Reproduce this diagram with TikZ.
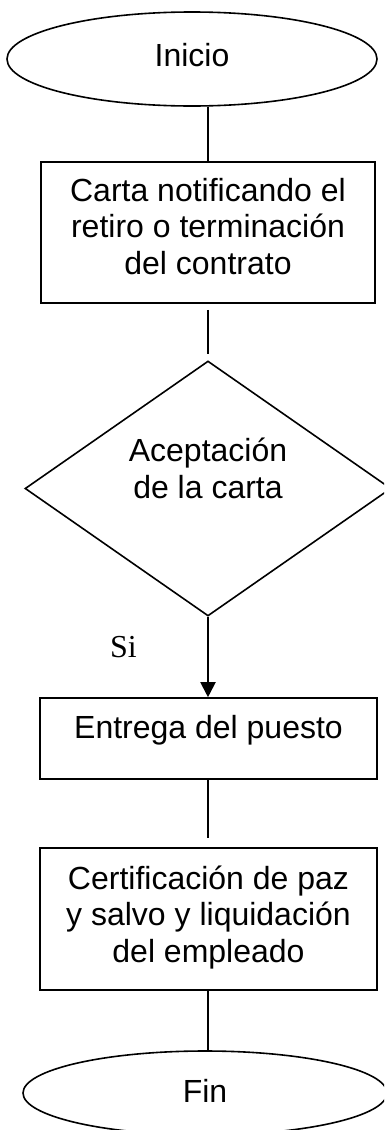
\documentclass[tikz,border=0pt]{standalone}
\usepackage{fontspec}
\setmainfont{Liberation Sans}
\newfontfamily\serifsi{Liberation Serif}
\usetikzlibrary{shapes.geometric,arrows.meta}
\begin{document}
\begin{tikzpicture}[x=1pt,y=-1pt,
  shapeline/.style={draw=black,line width=1.6pt},
  boxnode/.style={shapeline, rectangle, inner sep=0pt},
  ovalnode/.style={shapeline, ellipse, inner sep=0pt},
  decnode/.style={shapeline, diamond, inner sep=0pt},
  txt/.style={font=\fontsize{32}{36.5}\selectfont, align=center, inner sep=0pt},
  conn/.style={line width=1.8pt},
  arrowconn/.style={line width=2pt, -{Triangle[length=15pt,width=15pt]}}]
\clip (0,0) rectangle (384,1130);
\fill[white] (0,0) rectangle (384,1130);
% Inicio
\node[ovalnode, minimum width=370pt, minimum height=94pt,
  label={[txt,yshift=4pt]center:Inicio}] (inicio) at (192,59) {};
% Box 1
\node[boxnode, minimum width=334pt, minimum height=141pt,
  label={[txt,yshift=6pt]center:Carta notificando el\\retiro o terminación\\del contrato}] (box1) at (208,232.5) {};
% Decision
\node[decnode, minimum width=366pt, minimum height=255pt,
  label={[txt,yshift=20pt]center:Aceptación\\de la carta}] (dia) at (208,488.5) {};
% Box 2
\node[boxnode, minimum width=337pt, minimum height=81pt,
  label={[txt,yshift=8pt]center:Entrega del puesto}] (box2) at (208.5,738.5) {};
% Box 3
\node[boxnode, minimum width=337pt, minimum height=142pt,
  label={[txt,yshift=1.5pt]center:Certificación de paz\\y salvo y liquidación\\del empleado}] (box3) at (208.5,919) {};
% Fin
\node[ovalnode, minimum width=364pt, minimum height=84pt,
  label={[txt,yshift=2pt]center:Fin}] (fin) at (205,1093) {};
% Si label
\node[font=\serifsi\fontsize{32}{36}\selectfont, anchor=base west, inner sep=0pt] (si) at (110,657) {Si};
% Connectors
\draw[conn] (inicio.south -| dia.north) -- (box1.north -| dia.north);
\draw[conn, shorten >=6pt, shorten <=6pt] (box1.south -| dia.north) -- (dia.north);
\draw[arrowconn] (dia.south) -- (box2.north -| dia.south);
\draw[conn, shorten >=9pt] (box2.south -| dia.south) -- (box3.north -| dia.south);
\draw[conn] (box3.south -| dia.south) -- (fin.north -| dia.south);
\end{tikzpicture}
\end{document}
